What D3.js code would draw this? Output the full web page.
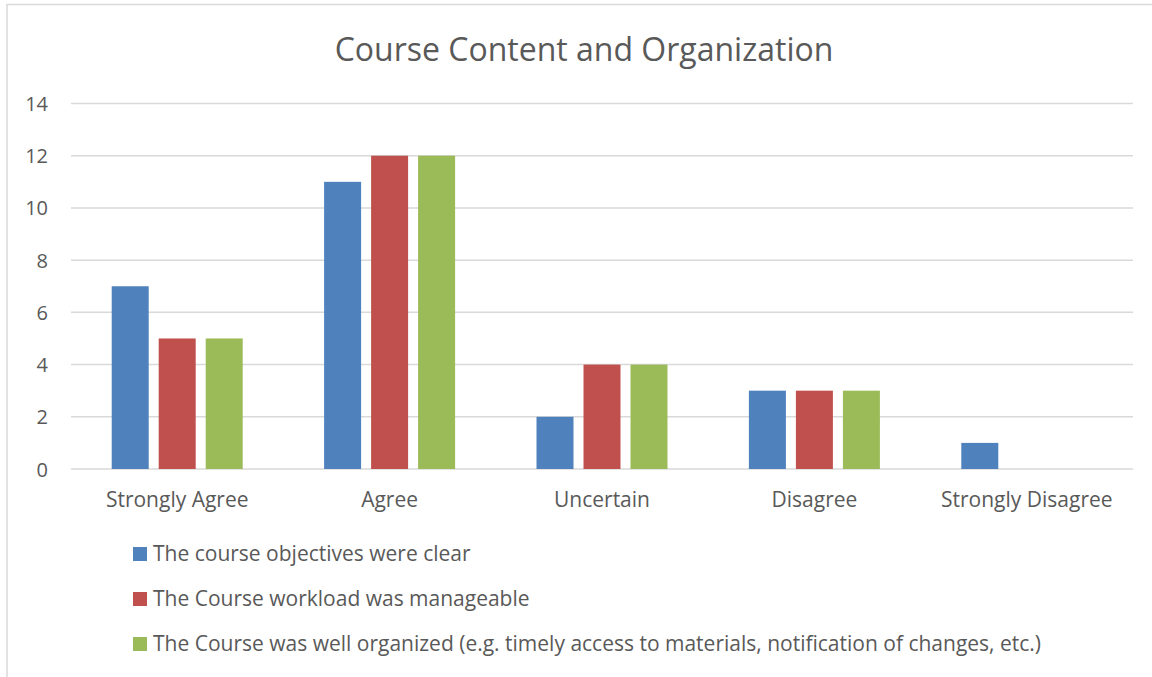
<!DOCTYPE html>
<meta charset="utf-8">
<style>
body { margin: 0; background: #fff; }
* { font-family: "Open Sans", sans-serif; }
.axis text { fill: #595959; }
.axis path, .axis line { stroke: none; }
</style>
<body>
<script src="https://d3js.org/d3.v7.min.js"></script>
<script>
var categories = ["Strongly Agree", "Agree", "Uncertain", "Disagree", "Strongly Disagree"];
var seriesNames = [
  "The course objectives were clear",
  "The Course workload was manageable",
  "The Course was well organized (e.g. timely access to materials, notification of changes, etc.)"
];
var objectives = [7, 11, 2, 3, 1];
var workload = [5, 12, 4, 3, 0];
var organized = [5, 12, 4, 3, 0];
var yTicks = [0, 2, 4, 6, 8, 10, 12, 14];
var colors = ["#4f81bd", "#c0504d", "#9bbb59"];

var series = [objectives, workload, organized];
var width = 1152, height = 677;
var margin = {left: 71, right: 19, top: 103.5, bottom: 208};

var svg = d3.select("body").append("svg")
    .attr("width", width)
    .attr("height", height);

// chart border
svg.append("rect")
    .attr("x", 7).attr("y", 4.5)
    .attr("width", width + 10).attr("height", height + 10)
    .attr("fill", "none")
    .attr("stroke", "#d9d9d9")
    .attr("stroke-width", 1.5);

svg.append("text")
    .attr("x", 584).attr("y", 61)
    .attr("text-anchor", "middle")
    .style("font-size", "32px")
    .style("fill", "#595959")
    .text("Course Content and Organization");

var x = d3.scaleBand()
    .domain(categories)
    .range([margin.left, width - margin.right]);

var y = d3.scaleLinear()
    .domain([0, 14])
    .range([height - margin.bottom, margin.top]);

var barW = 37, step = 47;

// gridlines
svg.append("g").selectAll("line")
    .data(yTicks)
  .enter().append("line")
    .attr("x1", x.range()[0]).attr("x2", x.range()[1])
    .attr("y1", function(d) { return y(d); })
    .attr("y2", function(d) { return y(d); })
    .attr("stroke", "#d9d9d9")
    .attr("stroke-width", 1.5);

series.forEach(function(vals, si) {
  svg.append("g").selectAll("rect")
      .data(vals)
    .enter().append("rect")
      .attr("x", function(d, i) { return x(categories[i]) + x.bandwidth() / 2 + (si - 1) * step - barW / 2; })
      .attr("y", function(d) { return y(d); })
      .attr("width", barW)
      .attr("height", function(d) { return y(0) - y(d); })
      .attr("fill", colors[si]);
});

svg.append("g")
    .attr("class", "axis")
    .attr("transform", "translate(" + (margin.left - 11) + ",0)")
    .call(d3.axisLeft(y).tickValues(yTicks).tickSize(0).tickPadding(12))
    .attr("font-size", 20)
    .attr("font-family", null)
    .selectAll("text").attr("dy", "0.35em");

svg.append("g")
    .attr("class", "axis")
    .attr("transform", "translate(0," + y(0) + ")")
    .call(d3.axisBottom(x).tickSize(0).tickPadding(23))
    .attr("font-size", 21)
    .attr("font-family", null);

var legend = svg.append("g").selectAll("g")
    .data(seriesNames)
  .enter().append("g")
    .attr("transform", function(d, i) { return "translate(133," + (554 + i * 45) + ")"; });

legend.append("rect")
    .attr("x", 0).attr("y", -7)
    .attr("width", 14).attr("height", 14)
    .attr("fill", function(d, i) { return colors[i]; });

legend.append("text")
    .attr("x", 20).attr("dy", "0.35em")
    .style("font-size", "21px")
    .style("fill", "#595959")
    .text(function(d) { return d; });
</script>
